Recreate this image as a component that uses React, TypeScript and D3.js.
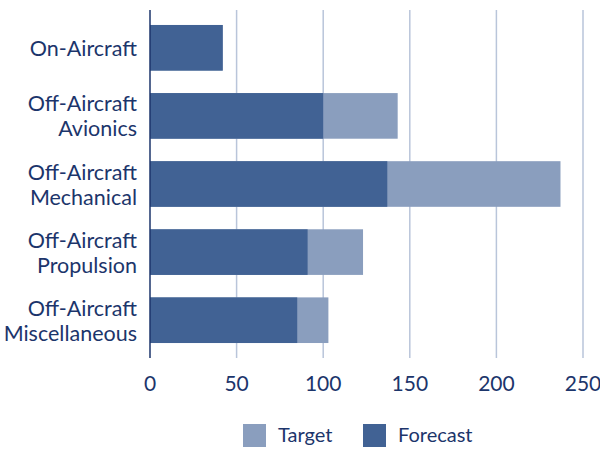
import React from "react";
import * as d3 from "d3";

const categories = [
  ["On-Aircraft"],
  ["Off-Aircraft", "Avionics"],
  ["Off-Aircraft", "Mechanical"],
  ["Off-Aircraft", "Propulsion"],
  ["Off-Aircraft", "Miscellaneous"],
];
const forecast = [42, 100, 137, 91, 85];
const target = [42, 143, 237, 123, 103];
const xTicks = [0, 50, 100, 150, 200, 250];

const DARK = "#416294";
const LIGHT = "#8a9ebe";
const TEXT = "#1c356b";
const GRID = "#b9c5da";
const FONT = "Lato, 'Noto Sans', sans-serif";

export default function App() {
  const width = 600;
  const height = 450;
  const left = 150;
  const top = 10;
  const bottom = 358;

  const x = d3.scaleLinear().domain([0, 250]).range([left, 583]);
  const y = d3
    .scaleBand<number>()
    .domain(d3.range(categories.length))
    .range([top, bottom])
    .paddingInner(0.33)
    .paddingOuter(0.22);

  const legend = [
    { label: "Target", color: LIGHT, x: 243, tx: 278 },
    { label: "Forecast", color: DARK, x: 363, tx: 398 },
  ];

  return (
    <svg
      width={width}
      height={height}
      style={{ position: "absolute", left: 0, top: 0, background: "#fff" }}
      fontFamily={FONT}
    >
      {/* grid */}
      {xTicks.slice(1).map((t) => (
        <line key={t} x1={x(t)} x2={x(t)} y1={top} y2={bottom} stroke={GRID} strokeWidth={1.5} />
      ))}

      {/* bars: target behind, forecast on top */}
      {categories.map((_, i) => (
        <g key={i}>
          <rect
            x={x(0)}
            y={y(i)}
            width={x(target[i]) - x(0)}
            height={y.bandwidth()}
            fill={LIGHT}
          />
          <rect
            x={x(0)}
            y={y(i)}
            width={x(forecast[i]) - x(0)}
            height={y.bandwidth()}
            fill={DARK}
          />
        </g>
      ))}

      {/* axis line */}
      <line x1={x(0)} x2={x(0)} y1={top} y2={bottom} stroke={TEXT} strokeWidth={1.5} />

      {/* category labels */}
      {categories.map((lines, i) => {
        const cy = (y(i) || 0) + y.bandwidth() / 2;
        const lh = 25;
        const start = cy - ((lines.length - 1) * lh) / 2;
        return (
          <text key={i} textAnchor="end" fontSize={21.5} fill={TEXT}>
            {lines.map((l, j) => (
              <tspan key={j} x={137} y={start + j * lh} dominantBaseline="central">
                {l}
              </tspan>
            ))}
          </text>
        );
      })}

      {/* x tick labels */}
      {xTicks.map((t) => (
        <text key={t} x={x(t)} y={391} textAnchor="middle" fontSize={21} fill={TEXT}>
          {t}
        </text>
      ))}

      {/* legend */}
      {legend.map((s) => (
        <g key={s.label}>
          <rect x={s.x} y={424} width={23} height={23} fill={s.color} />
          <text x={s.tx} y={442} fontSize={20} fill={TEXT}>
            {s.label}
          </text>
        </g>
      ))}
    </svg>
  );
}
